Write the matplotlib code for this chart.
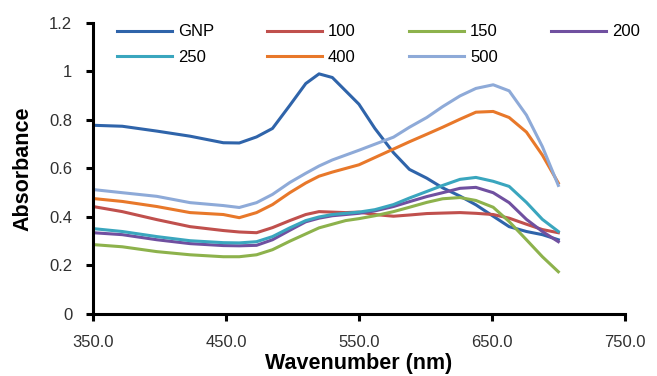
import matplotlib
matplotlib.use("Agg")
import matplotlib.pyplot as plt
from matplotlib.ticker import FixedLocator, FuncFormatter

plt.rcParams['font.family'] = ['Liberation Sans', 'DejaVu Sans']

# wavelength grid (nm) and absorbance per sample
wavelength = [350, 372, 398, 423, 448, 460, 473, 485, 498, 510, 520, 530, 540,
              550, 562, 576, 588, 601, 613, 626, 638, 651, 663, 676, 688, 700]

gnp = [0.778, 0.774, 0.754, 0.733, 0.706, 0.705, 0.730, 0.765, 0.860, 0.950,
       0.990, 0.975, 0.920, 0.865, 0.765, 0.665, 0.596, 0.560, 0.520, 0.486,
       0.450, 0.403, 0.360, 0.340, 0.327, 0.306]
s100 = [0.443, 0.422, 0.389, 0.360, 0.344, 0.338, 0.335, 0.356, 0.385, 0.410,
        0.422, 0.420, 0.418, 0.420, 0.410, 0.403, 0.408, 0.414, 0.416, 0.418,
        0.415, 0.410, 0.395, 0.370, 0.348, 0.335]
s150 = [0.286, 0.277, 0.257, 0.244, 0.236, 0.236, 0.244, 0.265, 0.300, 0.330,
        0.355, 0.370, 0.385, 0.393, 0.405, 0.422, 0.440, 0.460, 0.475, 0.480,
        0.468, 0.440, 0.381, 0.306, 0.236, 0.174]
s200 = [0.335, 0.327, 0.306, 0.290, 0.282, 0.281, 0.283, 0.306, 0.345, 0.380,
        0.395, 0.405, 0.410, 0.415, 0.425, 0.443, 0.463, 0.484, 0.500, 0.518,
        0.522, 0.500, 0.459, 0.390, 0.340, 0.298]
s250 = [0.352, 0.340, 0.319, 0.302, 0.294, 0.293, 0.298, 0.319, 0.355, 0.385,
        0.400, 0.410, 0.415, 0.420, 0.430, 0.451, 0.478, 0.505, 0.530, 0.555,
        0.563, 0.547, 0.526, 0.460, 0.390, 0.340]
s400 = [0.476, 0.464, 0.443, 0.418, 0.410, 0.397, 0.418, 0.451, 0.500, 0.540,
        0.568, 0.585, 0.600, 0.615, 0.645, 0.680, 0.710, 0.741, 0.770, 0.803,
        0.832, 0.835, 0.810, 0.750, 0.655, 0.540]
s500 = [0.513, 0.500, 0.485, 0.459, 0.447, 0.439, 0.459, 0.493, 0.542, 0.580,
        0.610, 0.635, 0.655, 0.675, 0.700, 0.729, 0.770, 0.810, 0.855, 0.899,
        0.930, 0.945, 0.920, 0.820, 0.690, 0.530]

labels = ['GNP', '100', '150', '200', '250', '400', '500']
series = [gnp, s100, s150, s200, s250, s400, s500]
colors = ['#2F64AA', '#C0504D', '#8DB24C', '#7050A0', '#3AA6BE', '#E8782A', '#8EAAD8']

fig = plt.figure(figsize=(6.57, 3.76), dpi=100)
ax = fig.add_axes([0.1416, 0.165, 0.8094, 0.774])

lines = []
for y, lab, c in zip(series, labels, colors):
    ln, = ax.plot(wavelength, y, color=c, lw=2.2, label=lab)
    lines.append(ln)

ax.set_xlim(350, 750)
ax.set_ylim(0, 1.2)
ax.xaxis.set_major_locator(FixedLocator([350, 450, 550, 650, 750]))
ax.yaxis.set_major_locator(FixedLocator([0, 0.2, 0.4, 0.6, 0.8, 1.0, 1.2]))
ax.xaxis.set_major_formatter(FuncFormatter(lambda v, p: f"{v:.1f}"))
ax.yaxis.set_major_formatter(FuncFormatter(lambda v, p: f"{v:g}"))

for side in ('top', 'right'):
    ax.spines[side].set_visible(False)
for side in ('left', 'bottom'):
    ax.spines[side].set_linewidth(2.2)
    ax.spines[side].set_color('black')
ax.tick_params(axis='both', direction='out', length=5, width=2.2, colors='black',
               labelcolor='#303030', labelsize=12)
ax.tick_params(axis='y', pad=10)
ax.tick_params(axis='x', pad=10)

ax.set_xlabel('Wavenumber (nm)', fontsize=15.5, fontweight='bold', labelpad=2)
ax.set_ylabel('Absorbance', fontsize=15.5, fontweight='bold', labelpad=11)

# legend fills column by column, so interleave the two rows
order = [0, 4, 1, 5, 2, 6, 3]
ax.legend([lines[i] for i in order], [labels[i] for i in order],
          loc='upper left', bbox_to_anchor=(0.045, 0.995), ncol=4, frameon=False,
          fontsize=12, handlelength=3.3, handletextpad=0.35, columnspacing=3.2,
          labelspacing=0.62, borderpad=0, borderaxespad=0)

fig.savefig('out.png', dpi=100)
